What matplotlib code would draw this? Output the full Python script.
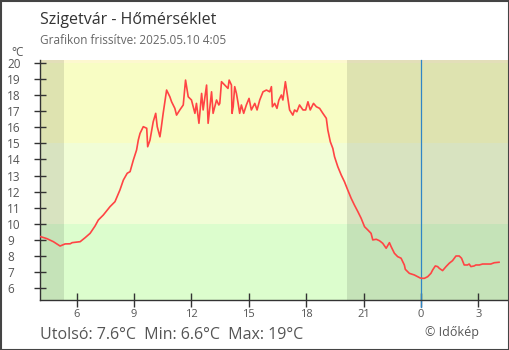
import matplotlib
matplotlib.use('Agg')
import matplotlib.pyplot as plt
from matplotlib.patches import Rectangle

plt.rcParams['font.family'] = ['Open Sans', 'DejaVu Sans']

# hours since previous midnight (24 = midnight of 2025.05.10)
hours = [4.09, 4.44, 4.78, 5.13, 5.39, 5.66, 5.76, 6.18, 6.44, 6.70, 6.96, 7.13,
         7.39, 7.74, 8.00, 8.26, 8.44, 8.64, 8.79, 8.96, 9.13, 9.22, 9.31, 9.48,
         9.66, 9.71, 9.83, 10.00, 10.13, 10.21, 10.35, 10.40, 10.52, 10.70, 10.87,
         10.96, 11.13, 11.22, 11.39, 11.57, 11.69, 11.83, 12.00, 12.18, 12.26,
         12.39, 12.53, 12.61, 12.79, 12.87, 13.05, 13.13, 13.31, 13.43, 13.48,
         13.57, 13.74, 13.91, 13.97, 14.09, 14.12, 14.18, 14.26, 14.35, 14.44,
         14.52, 14.61, 14.73, 14.87, 15.01, 15.13, 15.31, 15.43, 15.57, 15.74,
         15.92, 16.09, 16.18, 16.23, 16.35, 16.47, 16.57, 16.70, 16.78, 16.91,
         17.04, 17.13, 17.30, 17.39, 17.51, 17.65, 17.83, 17.97, 18.09, 18.21,
         18.38, 18.53, 18.70, 18.87, 19.05, 19.13, 19.26, 19.39, 19.48, 19.65,
         19.83, 20.00, 20.17, 20.35, 20.52, 20.70, 20.87, 21.05, 21.22, 21.39,
         21.48, 21.66, 21.83, 22.00, 22.18, 22.35, 22.44, 22.61, 22.78, 22.96,
         23.13, 23.18, 23.39, 23.65, 23.83, 23.96, 24.07, 24.18, 24.35, 24.52,
         24.61, 24.75, 24.87, 24.96, 25.13, 25.31, 25.48, 25.65, 25.83, 26.00,
         26.12, 26.26, 26.43, 26.52, 26.61, 26.78, 26.87, 27.05, 27.22, 27.39,
         27.65, 27.83, 28.08]
temps = [9.20, 9.07, 8.88, 8.61, 8.74, 8.75, 8.82, 8.88, 9.13, 9.40, 9.86, 10.23,
         10.54, 11.06, 11.37, 12.10, 12.72, 13.14, 13.24, 13.96, 14.59, 15.21, 15.62, 16.04,
         15.94, 14.79, 15.20, 16.35, 16.87, 16.04, 15.41, 15.80, 16.87, 18.32, 17.90,
         17.59, 17.18, 16.76, 17.08, 17.39, 18.94, 17.90, 17.70, 16.87, 17.49,
         16.25, 18.11, 17.08, 18.63, 16.25, 18.21, 16.87, 17.70, 17.39, 17.49,
         18.84, 18.63, 18.42, 18.94, 18.63, 16.87, 17.28, 18.53, 18.11, 17.49,
         16.87, 17.39, 16.87, 17.39, 17.80, 17.08, 17.49, 17.08, 17.70, 18.21,
         18.32, 18.21, 18.53, 17.28, 17.49, 17.18, 17.70, 18.01, 17.70, 18.84,
         17.80, 17.08, 16.76, 17.08, 16.97, 17.39, 17.08, 17.08, 17.59, 17.08,
         17.49, 17.28, 17.18, 16.87, 16.56, 15.83, 15.10, 14.69, 14.17, 13.55,
         13.03, 12.61, 12.10, 11.58, 11.16, 10.75, 10.34, 9.81, 9.61, 9.40,
         8.99, 9.03, 8.94, 8.78, 8.47, 8.82, 8.57, 8.16, 7.95, 7.85,
         7.43, 7.16, 6.91, 6.81, 6.70, 6.62, 6.60, 6.60, 6.70, 6.91,
         7.12, 7.37, 7.33, 7.22, 7.08, 7.33, 7.54, 7.70, 7.99, 7.99,
         7.85, 7.43, 7.43, 7.49, 7.33, 7.37, 7.43, 7.43, 7.49, 7.49,
         7.49, 7.57, 7.60]

x_ticks = [6, 9, 12, 15, 18, 21, 24, 27]
x_tick_labels = ['6', '9', '12', '15', '18', '21', '0', '3']
y_ticks = list(range(6, 21))

sunrise = 5.34
sunset = 20.14
x_min, x_max = 4.08, 28.55
y_min, y_max = 5.25, 20.19

# temperature bands (lower, upper, colour)
bands = [(-10, 10, '#dcfdcd'), (10, 15, '#f1fdd6'), (15, 20, '#f8fdc4'), (20, 30, '#fdf8cf')]

fig = plt.figure(figsize=(5.1, 3.5), dpi=100)
ax = fig.add_axes([40 / 510, 1 - 300 / 350, 468 / 510, 240 / 350])

for lo, hi, col in bands:
    ax.axhspan(lo, hi, color=col, lw=0, zorder=0)
# night shading
ax.axvspan(x_min - 1, sunrise, color='black', alpha=0.1, lw=0, zorder=1)
ax.axvspan(sunset, x_max + 1, color='black', alpha=0.1, lw=0, zorder=1)

ax.axvline(24, ymin=-0.03, ymax=1, color='#2f86c6', lw=0.9, clip_on=False, zorder=2)
ax.plot(hours, temps, color='#ff4444', lw=1.2, zorder=3)

ax.set_xlim(x_min, x_max)
ax.set_ylim(y_min, y_max)
ax.set_xticks(x_ticks)
ax.set_xticklabels(x_tick_labels)
ax.set_yticks(y_ticks)

for s in ['top', 'right']:
    ax.spines[s].set_visible(False)
for s in ['left', 'bottom']:
    ax.spines[s].set_color('#333333')
    ax.spines[s].set_linewidth(1)

ax.tick_params(axis='x', direction='inout', length=9.5, width=1, color='#333333',
               labelsize=8, labelcolor='#555555', pad=2)
ax.tick_params(axis='y', direction='inout', length=8.6, width=1, color='#333333',
               labelsize=8.5, labelcolor='#555555', pad=19.4)
for lbl in ax.get_yticklabels():
    lbl.set_horizontalalignment('left')

fig.text(40 / 510, 1 - 24 / 350, 'Szigetvár - Hőmérséklet', fontsize=11.5, color='#333333')
fig.text(40 / 510, 1 - 44.5 / 350, 'Grafikon frissítve: 2025.05.10 4:05', fontsize=8.5, color='#666666')
fig.text(11 / 510, 1 - 56 / 350, '°C', fontsize=8.5, color='#555555')
fig.text(40 / 510, 1 - 339 / 350, 'Utolsó: 7.6°C  Min: 6.6°C  Max: 19°C', fontsize=11.5, color='#555555')
fig.text(425 / 510, 1 - 336 / 350, '© Időkép', fontsize=9, color='#555555')

fig.patches.append(Rectangle((0.001, 0.001), 0.997, 0.997, transform=fig.transFigure,
                             fill=False, edgecolor='#444444', lw=1.5))

plt.savefig('out.png', dpi=100)
